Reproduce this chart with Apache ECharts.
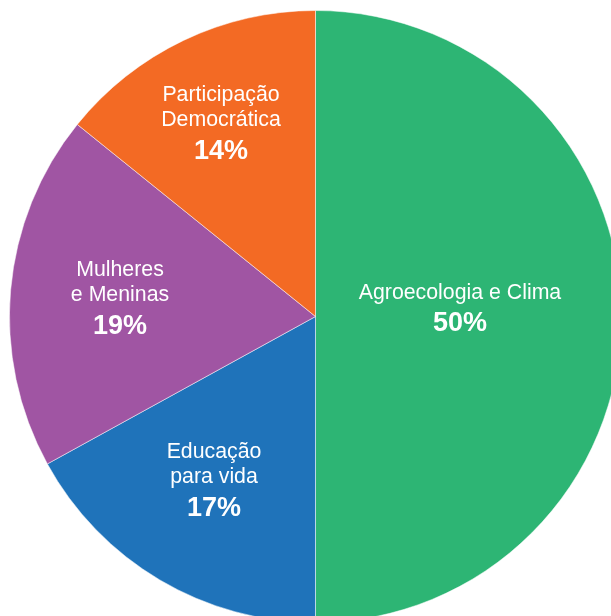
<!DOCTYPE html>
<html>
<head>
<meta charset="utf-8">
<script src="https://cdn.jsdelivr.net/npm/echarts@6/dist/echarts.min.js"></script>
<style>
  html, body { margin: 0; padding: 0; background: #ffffff; }
  #chart { width: 611px; height: 616px; }
</style>
</head>
<body>
<div id="chart"></div>
<script>
// Data
const categories = ["Agroecologia e Clima", "Educação\npara vida", "Mulheres\ne Meninas", "Participação\nDemocrática"];
const values = [50, 17, 18.8, 14.2];
const colors = ["#2DB574", "#1F73BA", "#A055A3", "#F36A24"];

// Layout (styling only)
const PIE_CX = 315.5, PIE_CY = 316.5, PIE_R = 306;
const labelOffsets = [[144.5, -5], [-101.5, 167], [-195.5, -15], [-94.5, -190]];

const chart = echarts.init(document.getElementById('chart'), null, { renderer: 'canvas' });

chart.setOption({
  backgroundColor: '#ffffff',
  animation: false,
  series: [{
    type: 'pie',
    center: [PIE_CX, PIE_CY],
    radius: [0, PIE_R],
    startAngle: 90,
    clockwise: true,
    data: categories.map((c, i) => ({ name: c, value: values[i], itemStyle: { color: colors[i] } })),
    itemStyle: { borderColor: '#ffffff', borderWidth: 0.5 },
    emphasis: { disabled: true },
    label: {
      show: true,
      position: 'inside',
      color: '#ffffff',
      align: 'center',
      formatter: p => '{n|' + p.name + '}\n{p|' + Math.round(p.value) + '%}',
      rich: {
        n: { fontFamily: 'Liberation Sans, Arial, sans-serif', fontSize: 21.3, lineHeight: 25, color: '#ffffff', align: 'center' },
        p: { fontFamily: 'Liberation Sans, Arial, sans-serif', fontSize: 27, fontWeight: 'bold', lineHeight: 37, color: '#ffffff', align: 'center' }
      }
    },
    labelLine: { show: false },
    labelLayout: function (params) {
      const o = labelOffsets[params.dataIndex];
      return { x: PIE_CX + o[0], y: PIE_CY + o[1], align: 'center', verticalAlign: 'middle' };
    }
  }]
});
</script>
</body>
</html>
